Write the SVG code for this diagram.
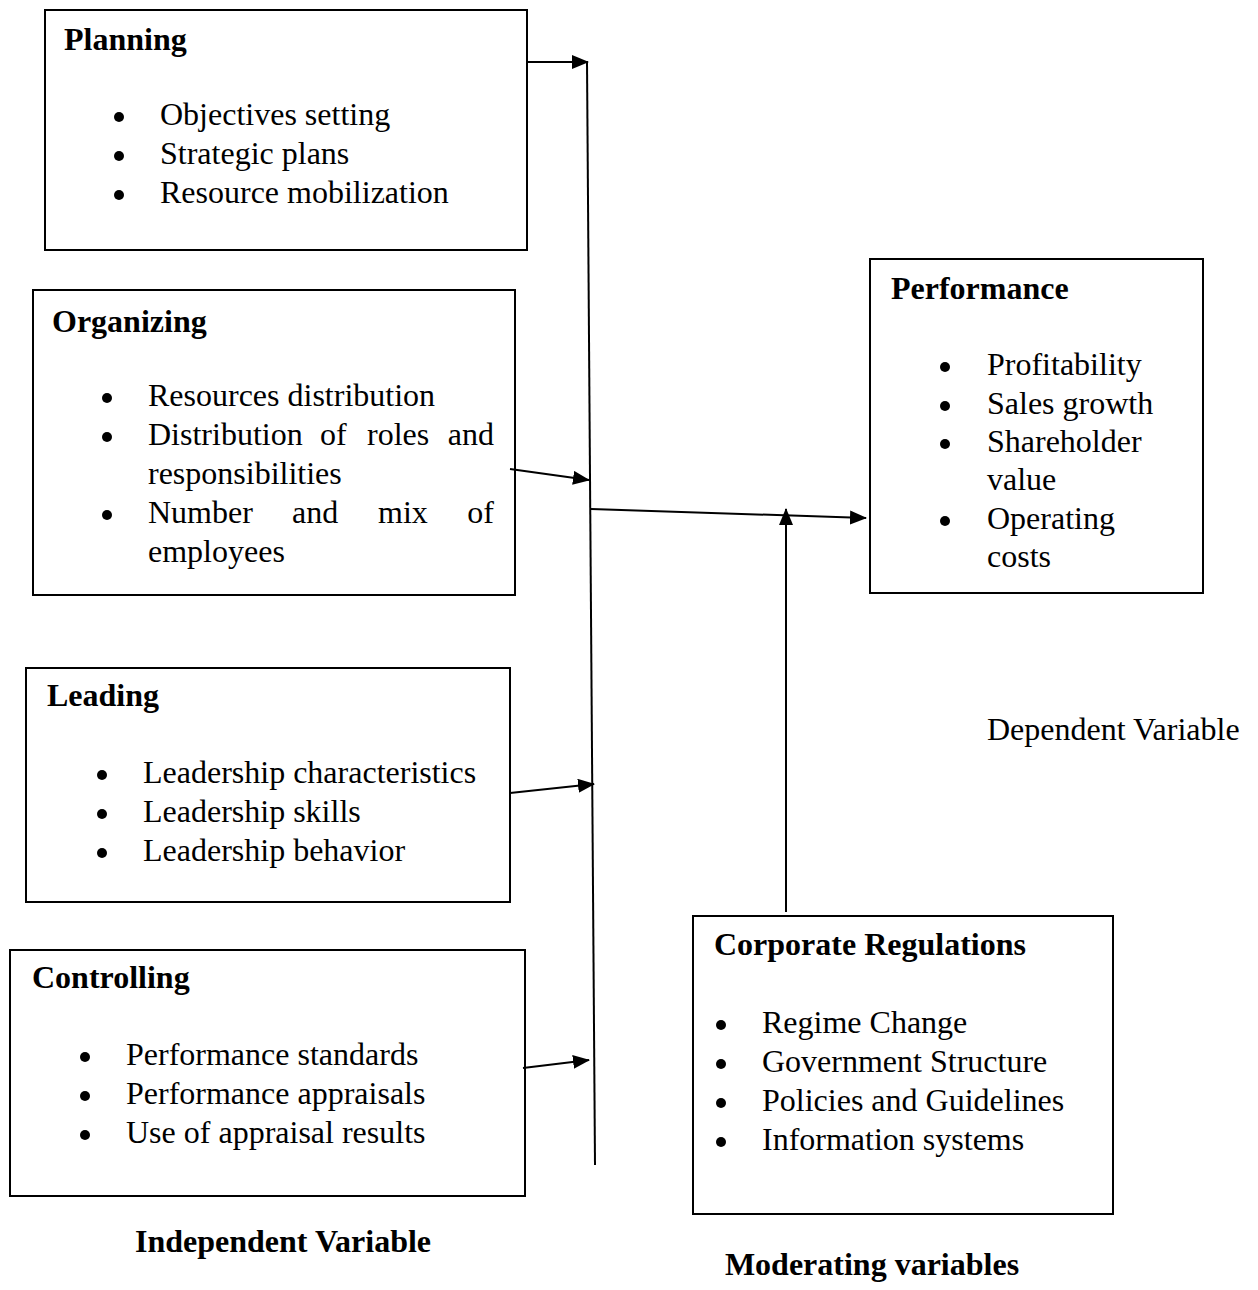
<svg xmlns="http://www.w3.org/2000/svg" width="1258" height="1290" viewBox="0 0 1258 1290">
<style>
.box{fill:#fff;stroke:#000;stroke-width:2}
.t{font-family:"Liberation Serif","Times New Roman",serif;font-size:32px;fill:#000}
.b{font-weight:bold}
.dot{fill:#000}
.c{stroke:#000;stroke-width:2;fill:none}
</style>
<defs>
<marker id="ah" markerUnits="userSpaceOnUse" markerWidth="18" markerHeight="16" refX="16" refY="7" orient="auto">
<path d="M0,0 L17,7 L0,14 z" fill="#000"/>
</marker>
</defs>
<rect width="1258" height="1290" fill="#fff"/>
<g id="planning">
<rect class="box" x="45" y="10" width="482" height="240"/>
<text class="t b" x="64" y="50">Planning</text>
<circle class="dot" cx="119" cy="117" r="5"/><text class="t" x="160" y="125">Objectives setting</text>
<circle class="dot" cx="119" cy="156" r="5"/><text class="t" x="160" y="164">Strategic plans</text>
<circle class="dot" cx="119" cy="195" r="5"/><text class="t" x="160" y="203">Resource mobilization</text>
</g>
<g id="organizing">
<rect class="box" x="33" y="290" width="482" height="305"/>
<text class="t b" x="52" y="332">Organizing</text>
<circle class="dot" cx="107" cy="398" r="5"/><text class="t" x="148" y="406">Resources distribution</text>
<circle class="dot" cx="107" cy="437" r="5"/>
<text class="t" x="148" y="445">Distribution</text><text class="t" x="320" y="445">of</text><text class="t" x="367" y="445">roles</text><text class="t" x="494" y="445" text-anchor="end">and</text>
<text class="t" x="148" y="484">responsibilities</text>
<circle class="dot" cx="107" cy="515" r="5"/>
<text class="t" x="148" y="523">Number</text><text class="t" x="292" y="523">and</text><text class="t" x="378" y="523">mix</text><text class="t" x="494" y="523" text-anchor="end">of</text>
<text class="t" x="148" y="562">employees</text>
</g>
<g id="leading">
<rect class="box" x="26" y="668" width="484" height="234"/>
<text class="t b" x="47" y="706">Leading</text>
<circle class="dot" cx="102" cy="775" r="5"/><text class="t" x="143" y="783">Leadership characteristics</text>
<circle class="dot" cx="102" cy="814" r="5"/><text class="t" x="143" y="822">Leadership skills</text>
<circle class="dot" cx="102" cy="853" r="5"/><text class="t" x="143" y="861">Leadership behavior</text>
</g>
<g id="controlling">
<rect class="box" x="10" y="950" width="515" height="246"/>
<text class="t b" x="32" y="988">Controlling</text>
<circle class="dot" cx="85" cy="1057" r="5"/><text class="t" x="126" y="1065">Performance standards</text>
<circle class="dot" cx="85" cy="1096" r="5"/><text class="t" x="126" y="1104">Performance appraisals</text>
<circle class="dot" cx="85" cy="1135" r="5"/><text class="t" x="126" y="1143">Use of appraisal results</text>
</g>
<g id="performance">
<rect class="box" x="870" y="259" width="333" height="334"/>
<text class="t b" x="891" y="299">Performance</text>
<circle class="dot" cx="945" cy="367" r="5"/><text class="t" x="987" y="375">Profitability</text>
<circle class="dot" cx="945" cy="406" r="5"/><text class="t" x="987" y="414">Sales growth</text>
<circle class="dot" cx="945" cy="444" r="5"/><text class="t" x="987" y="452">Shareholder</text>
<text class="t" x="987" y="490">value</text>
<circle class="dot" cx="945" cy="521" r="5"/><text class="t" x="987" y="529">Operating</text>
<text class="t" x="987" y="567">costs</text>
</g>
<g id="corporate">
<rect class="box" x="693" y="916" width="420" height="298"/>
<text class="t b" x="714" y="955">Corporate Regulations</text>
<circle class="dot" cx="721" cy="1025" r="5"/><text class="t" x="762" y="1033">Regime Change</text>
<circle class="dot" cx="721" cy="1064" r="5"/><text class="t" x="762" y="1072">Government Structure</text>
<circle class="dot" cx="721" cy="1103" r="5"/><text class="t" x="762" y="1111">Policies and Guidelines</text>
<circle class="dot" cx="721" cy="1142" r="5"/><text class="t" x="762" y="1150">Information systems</text>
</g>
<g id="labels">
<text class="t" x="987" y="740">Dependent Variable</text>
<text class="t b" x="283" y="1252" text-anchor="middle">Independent Variable</text>
<text class="t b" x="872" y="1275" text-anchor="middle">Moderating variables</text>
</g>
<g id="connectors">
<line class="c" x1="587" y1="62" x2="595" y2="1165"/>
<line class="c" x1="527" y1="62" x2="588" y2="62" marker-end="url(#ah)"/>
<line class="c" x1="510" y1="469" x2="589" y2="480" marker-end="url(#ah)"/>
<line class="c" x1="510" y1="793" x2="594" y2="784" marker-end="url(#ah)"/>
<line class="c" x1="523" y1="1068" x2="589" y2="1060" marker-end="url(#ah)"/>
<line class="c" x1="591" y1="509" x2="866" y2="518" marker-end="url(#ah)"/>
<line class="c" x1="786" y1="912" x2="786" y2="509" marker-end="url(#ah)"/>
</g>
</svg>
